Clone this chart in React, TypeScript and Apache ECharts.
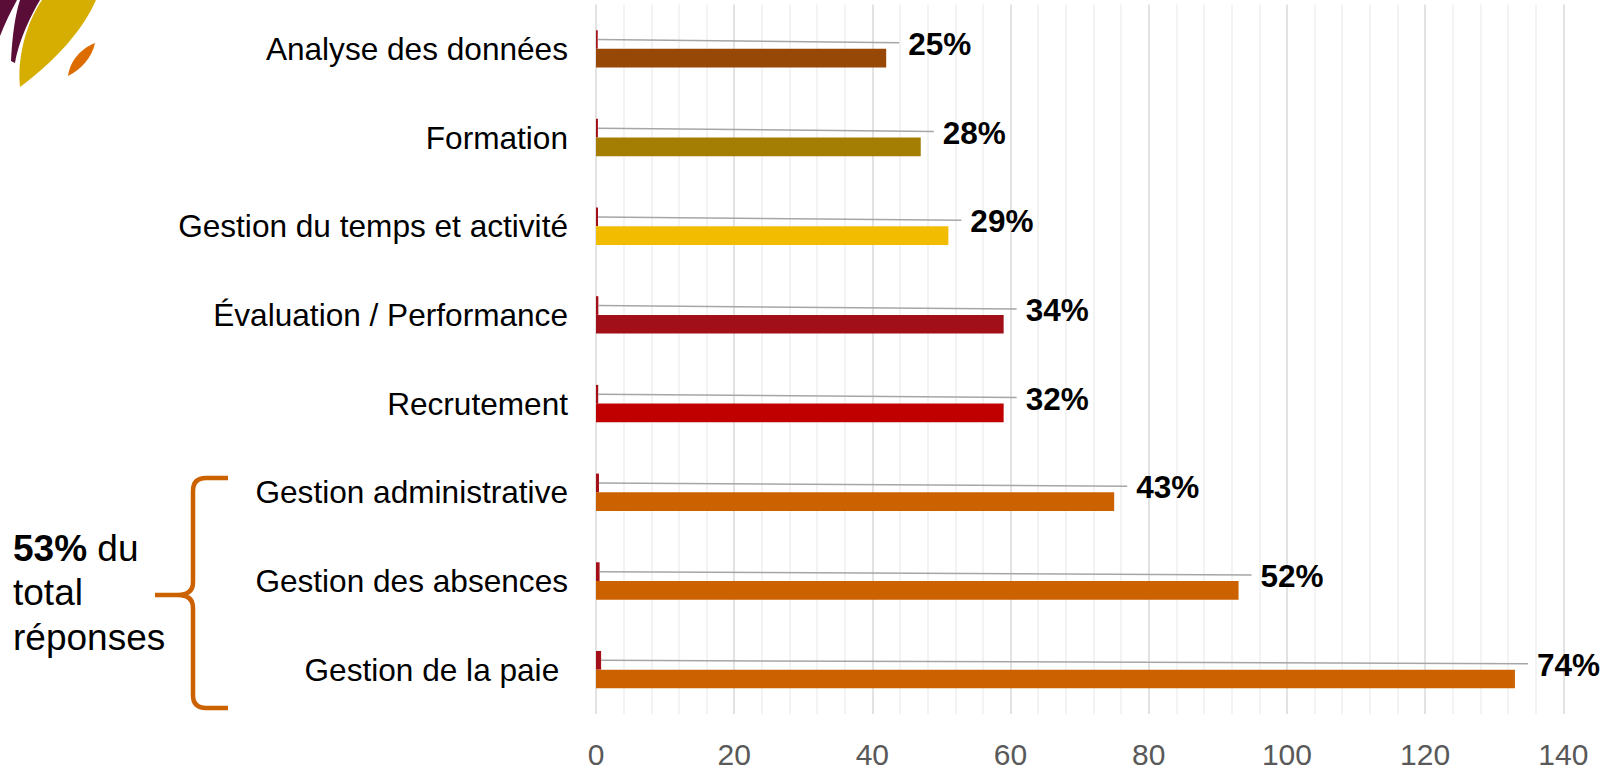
import React, { useEffect, useRef } from "react";
import * as echarts from "echarts";

const categories = [
  "Analyse des données",
  "Formation",
  "Gestion du temps et activité",
  "Évaluation / Performance",
  "Recrutement",
  "Gestion administrative",
  "Gestion des absences",
  "Gestion de la paie ",
];
const counts = [42, 47, 51, 59, 59, 75, 93, 133];
const shares = [0.25, 0.28, 0.29, 0.34, 0.32, 0.43, 0.52, 0.74];
const axisMin = 0;
const axisMax = 140;
const axisStep = 20;

const barColors = ["#984806", "#A37E03", "#F2BC00", "#A11019", "#C00000", "#CC6100", "#CC6100", "#CC6100"];
const FONT = '"Liberation Sans", Arial, sans-serif';

let registered = false;
function registerShapes() {
  if (registered) return;
  registered = true;
  const reg = (name: string, d: string) =>
    echarts.graphic.registerShape(name, (echarts.graphic as any).extendPath(d, {}));
  reg("brace", "M228,478 L206,478 Q193,478 193,491 L193,582 Q193,595 178,595 L155,595 M178,595 Q193,595 193,608 L193,695 Q193,708 206,708 L228,708");
  reg("logoA", "M0,0 L17,0 C11,11 5,23 0,36 Z");
  reg("logoB", "M20,0 L40,0 C31,15 19,40 15,63 L11,61 C12,38 15,15 20,0 Z");
  reg("logoY", "M42,0 L96,0 C83,30 56,60 20,87 C17,60 25,25 42,0 Z");
  reg("logoO", "M68,76 C70,60 82,48 95,43 C92,58 80,70 68,76 Z");
}

export default function App() {
  const ref = useRef<HTMLDivElement>(null);
  useEffect(() => {
    if (!ref.current) return;
    registerShapes();
    const chart = echarts.init(ref.current, null, { renderer: "svg" });
    const option: any = {
      animation: false,
      grid: { left: 596, right: 44.7, top: 4.5, bottom: 52.2, containLabel: false },
      xAxis: {
        type: "value",
        min: axisMin,
        max: axisMax,
        interval: axisStep,
        axisLine: { show: false },
        axisTick: { show: false },
        axisLabel: { fontSize: 30, color: "#595959", fontFamily: FONT, margin: 25 },
        splitLine: { show: true, lineStyle: { color: "#d9d9d9", width: 1.5 } },
        minorTick: { show: false, splitNumber: 5 },
        minorSplitLine: { show: true, lineStyle: { color: "#efefef", width: 1.5 } },
      },
      yAxis: {
        type: "category",
        data: categories,
        inverse: true,
        axisLine: { show: false },
        axisTick: { show: false },
        axisLabel: { fontSize: 31.6, color: "#000", fontFamily: FONT, margin: 28 },
      },
      series: [
        {
          type: "bar",
          name: "share",
          data: shares,
          barWidth: 18.7,
          barGap: "0%",
          itemStyle: { color: "#A50F18" },
        },
        {
          type: "bar",
          name: "count",
          data: counts.map((v, i) => ({ value: v, itemStyle: { color: barColors[i] } })),
          barWidth: 18.7,
          barGap: "0%",
        },
        {
          type: "custom",
          name: "labels",
          z: 5,
          clip: false,
          encode: { x: 2, y: 0 },
          data: categories.map((_, i) => [i, shares[i], counts[i]]),
          renderItem: (params: any, api: any) => {
            const i = api.value(0);
            const p = api.value(1);
            const v = api.value(2);
            const s = api.coord([p, i]);
            const e = api.coord([v, i]);
            return {
              type: "group",
              children: [
                {
                  type: "line",
                  shape: { x1: s[0], y1: s[1] - 9.3, x2: e[0] + 13, y2: e[1] - 6 },
                  style: { stroke: "#a6a6a6", lineWidth: 1.5 },
                },
                {
                  type: "text",
                  style: {
                    x: e[0] + 22,
                    y: e[1] - 5,
                    text: Math.round(p * 100) + "%",
                    fontSize: 31.5,
                    fontWeight: "bold",
                    fontFamily: FONT,
                    fill: "#000",
                    align: "left",
                    verticalAlign: "middle",
                  },
                },
              ],
            };
          },
        },
      ],
      graphic: [
        { type: "logoA", x: 0, y: 0, style: { fill: "#5A0D36" } },
        { type: "logoB", x: 0, y: 0, style: { fill: "#5A0D36" } },
        { type: "logoY", x: 0, y: 0, style: { fill: "#D6AE02" } },
        { type: "logoO", x: 0, y: 0, style: { fill: "#DD6C00" } },
        { type: "brace", x: 0, y: 0, style: { fill: "none", stroke: "#CC6100", lineWidth: 4.5 } },
        {
          type: "text",
          x: 13,
          y: 526,
          style: {
            text: "{b|53%} du\ntotal\nréponses",
            fontSize: 37,
            fontFamily: FONT,
            lineHeight: 44.6,
            fill: "#000",
            verticalAlign: "top",
            rich: {
              b: { fontSize: 37, fontWeight: "bold", fontFamily: FONT, lineHeight: 44.6, fill: "#000" },
            },
          },
        },
      ],
    };
    chart.setOption(option);
    return () => chart.dispose();
  }, []);
  return (
    <div
      ref={ref}
      style={{ position: "absolute", left: 0, top: 0, width: 1608, height: 769 }}
    />
  );
}
